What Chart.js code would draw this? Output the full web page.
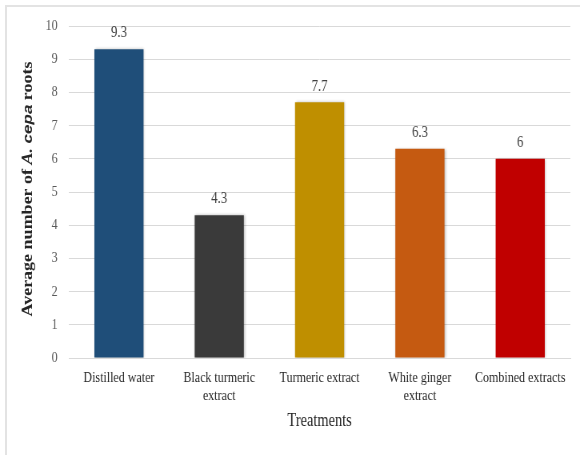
<!DOCTYPE html>
<html>
<head>
<meta charset="utf-8">
<script src="https://cdn.jsdelivr.net/npm/chart.js@4"></script>
<style>
  html,body{margin:0;padding:0;background:#fff;overflow:hidden;}
  #wrap{position:relative;width:580px;height:455px;}
  #frame{position:absolute;left:5px;top:5px;right:0;bottom:0;border-left:2px solid #e3e3e3;border-top:2px solid #e3e3e3;}
  /* the original figure is horizontally condensed: draw wider and squeeze */
  #chart{position:absolute;left:0;top:0;transform:scaleX(0.8);transform-origin:0 0;}
</style>
</head>
<body>
<div id="wrap">
  <div id="frame"></div>
  <canvas id="chart" width="725" height="455" style="width:725px;height:455px"></canvas>
</div>
<script>
const categories = ['Distilled water', ['Black turmeric','extract'], 'Turmeric extract', ['White ginger','extract'], 'Combined extracts'];
const rootCounts = [9.3, 4.3, 7.7, 6.3, 6];
const barColors = ['#1F4E79', '#3A3A3A', '#BF8F00', '#C55A11', '#C00000'];
const yTicks = [0,1,2,3,4,5,6,7,8,9,10];

const serif = '"Liberation Serif", "Times New Roman", serif';
const sans = '"Liberation Sans", Arial, sans-serif';

// soft shadow behind bars
const barShadow = {
  id: 'barShadow',
  beforeDatasetsDraw(chart){
    const ctx = chart.ctx;
    ctx.save();
    ctx.shadowColor = 'rgba(0,0,0,0.28)';
    ctx.shadowBlur = 3;
    ctx.shadowOffsetX = 1;
    ctx.shadowOffsetY = 0;
  },
  afterDatasetsDraw(chart){ chart.ctx.restore(); }
};

// value labels above bars
const valueLabels = {
  id: 'valueLabels',
  afterDatasetsDraw(chart){
    const ctx = chart.ctx;
    const meta = chart.getDatasetMeta(0);
    ctx.save();
    ctx.font = '16px ' + serif;
    ctx.fillStyle = '#404040';
    ctx.textAlign = 'center';
    ctx.textBaseline = 'middle';
    meta.data.forEach((bar,i)=>{
      ctx.fillText(String(rootCounts[i]), bar.x, bar.y - 16);
    });
    ctx.restore();
  }
};

// y title with italic species name
const yTitle = {
  id: 'yTitle',
  afterDraw(chart){
    const ctx = chart.ctx;
    const parts = [
      {t:'Average number of ', f:'bold 18px ' + serif},
      {t:'A. ', f:'italic bold 18px ' + serif},
      {t:'cepa', f:'italic bold 17px ' + sans},
      {t:' roots', f:'bold 18px ' + serif}
    ];
    ctx.save();
    let total = 0;
    parts.forEach(p=>{ ctx.font = p.f; p.w = ctx.measureText(p.t).width; total += p.w; });
    const cy = 189;
    ctx.translate(35, cy);
    ctx.rotate(-Math.PI/2);
    ctx.fillStyle = '#262626';
    ctx.textBaseline = 'middle';
    ctx.textAlign = 'left';
    let x = -total/2;
    parts.forEach(p=>{ ctx.font = p.f; ctx.fillText(p.t, x, 0); x += p.w; });
    ctx.restore();
  }
};

new Chart(document.getElementById('chart').getContext('2d'), {
  type: 'bar',
  data: {
    labels: categories,
    datasets: [{
      label: 'Average number of A. cepa roots',
      data: rootCounts,
      backgroundColor: barColors,
      borderWidth: 0,
      barPercentage: 0.49,
      categoryPercentage: 1
    }]
  },
  options: {
    responsive: false,
    animation: false,
    devicePixelRatio: 1,
    layout: {padding: {top: 26, right: 12, bottom: 23, left: 0}},
    plugins: {legend: {display: false}, tooltip: {enabled: false}},
    scales: {
      x: {
        grid: {display: false, drawTicks: false},
        border: {color: '#d9d9d9', width: 1},
        ticks: {color: '#262626', font: {family: serif, size: 15, lineHeight: 1.2}, padding: 11, maxRotation: 0, autoSkip: false},
        title: {display: true, text: 'Treatments', color: '#262626', font: {family: serif, size: 18}, padding: {top: 0, bottom: 0}},
        afterFit(scale){ scale.height = 74; }
      },
      y: {
        min: 0, max: 10,
        afterBuildTicks(scale){ scale.ticks = yTicks.map(v=>({value:v})); },
        grid: {color: '#d9d9d9', drawTicks: false},
        border: {display: false},
        ticks: {color: '#595959', font: {family: serif, size: 15}, padding: 14},
        afterFit(scale){ scale.width = 86; }
      }
    }
  },
  plugins: [barShadow, valueLabels, yTitle]
});
</script>
</body>
</html>
